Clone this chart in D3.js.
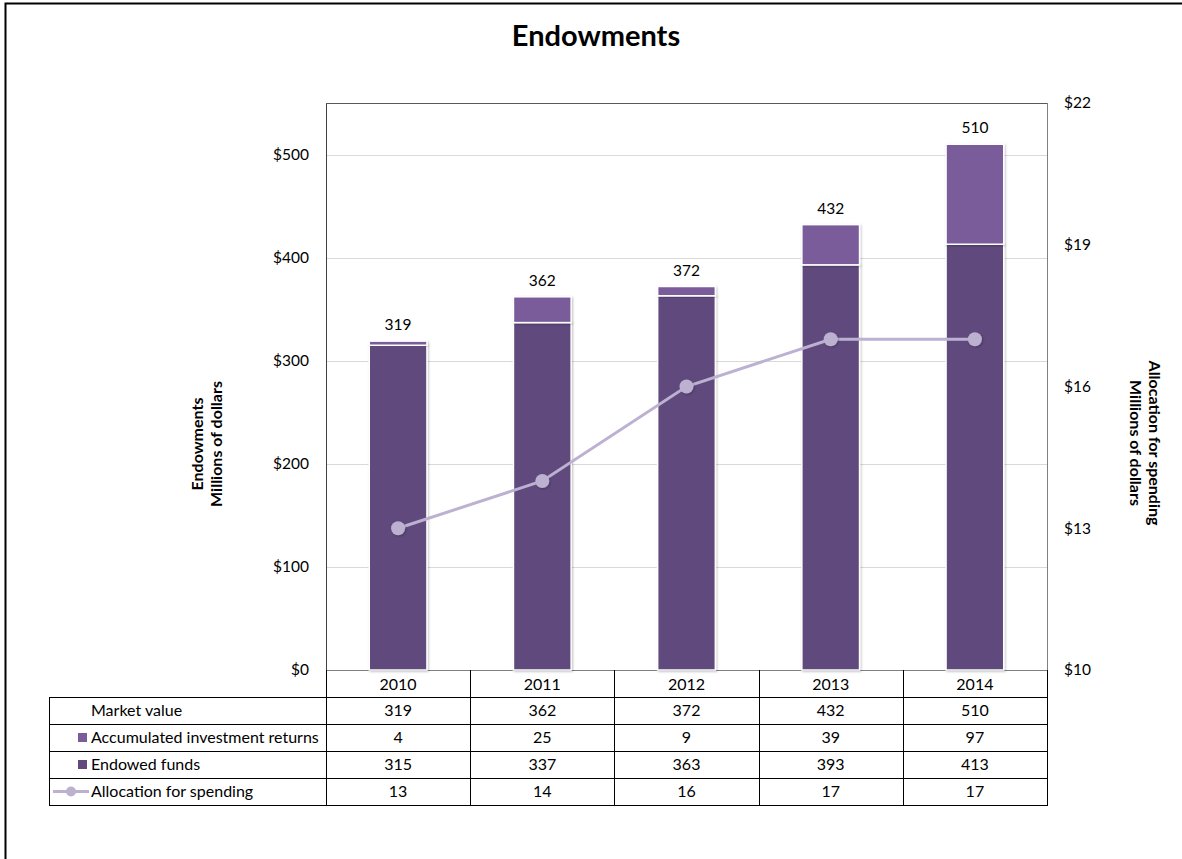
<!DOCTYPE html>
<html><head><meta charset="utf-8">
<script src="https://cdn.jsdelivr.net/npm/d3@7"></script>
<style>
html,body{margin:0;padding:0;background:#fff;}
svg{display:block;font-family:Lato, "Open Sans", sans-serif;}
</style></head>
<body>
<svg id="c" width="1182" height="859"></svg>
<script>
const years = ["2010","2011","2012","2013","2014"];
const marketValue = [319,362,372,432,510];
const accumulated = [4,25,9,39,97];
const endowed = [315,337,363,393,413];
const allocation = [13,14,16,17,17];
const leftTicks = [0,100,200,300,400,500];
const rightTicks = [10,13,16,19,22];
const seriesNames = ["Market value","Accumulated investment returns","Endowed funds","Allocation for spending"];

const cDark = "#604a7b", cLight = "#7a5c9a", cLine = "#bdb1d2";
const svg = d3.select("#c");
const defs = svg.append("defs");
const f = defs.append("filter").attr("id","sh").attr("x","-20%").attr("y","-20%").attr("width","140%").attr("height","140%");
f.append("feDropShadow").attr("dx",1).attr("dy",1).attr("stdDeviation",1.2).attr("flood-color","#000").attr("flood-opacity",0.25);

// outer border
svg.append("rect").attr("x",5.5).attr("y",3.5).attr("width",1190).attr("height",870)
  .attr("fill","none").attr("stroke","#000").attr("stroke-width",2);

const L = 326, R = 1047, T = 103, B = 670;
const x = d3.scaleBand().domain(years).range([L,R]).paddingInner(0).paddingOuter(0);
const y = d3.scaleLinear().domain([0,550]).range([B,T]);
const y2 = d3.scaleLinear().domain([10,22]).range([B,T]);

// title
svg.append("text").attr("x",596).attr("y",46).attr("text-anchor","middle")
  .attr("font-size",29).attr("font-weight","bold").attr("fill","#000").text("Endowments");

// gridlines
svg.append("g").selectAll("line").data(leftTicks.filter(d=>d>0)).join("line")
  .attr("x1",L).attr("x2",R).attr("y1",d=>Math.round(y(d))+0.5).attr("y2",d=>Math.round(y(d))+0.5)
  .attr("stroke","#d9d9d9").attr("stroke-width",1);

// plot frame
svg.append("rect").attr("x",L+0.5).attr("y",T+0.5).attr("width",R-L).attr("height",B-T)
  .attr("fill","none").attr("stroke","#7f7f7f").attr("stroke-width",1);
svg.append("line").attr("x1",L+0.5).attr("x2",L+0.5).attr("y1",T).attr("y2",B).attr("stroke","#404040");
svg.append("line").attr("x1",L).attr("x2",R).attr("y1",T+0.5).attr("y2",T+0.5).attr("stroke","#595959");

// left axis
const gl = svg.append("g").attr("transform",`translate(${L-14},0)`)
  .call(d3.axisLeft(y).tickValues(leftTicks).tickSize(0).tickFormat(d=>"$"+d));
gl.select(".domain").remove();
gl.selectAll("text").attr("font-size",15.5).attr("fill","#000").attr("font-family","Lato, sans-serif");

// right axis
const gr = svg.append("g").attr("transform",`translate(${R+14},0)`)
  .call(d3.axisRight(y2).tickValues(rightTicks).tickSize(0).tickFormat(d=>"$"+d));
gr.select(".domain").remove();
gr.selectAll("text").attr("font-size",15.5).attr("fill","#000").attr("font-family","Lato, sans-serif");

// axis titles
const lt = svg.append("text").attr("transform","translate(208,444) rotate(-90)")
  .attr("text-anchor","middle").attr("font-size",16).attr("font-weight","bold");
lt.append("tspan").attr("x",0).attr("dy","-0.3em").text("Endowments");
lt.append("tspan").attr("x",0).attr("dy","1.2em").text("Millions of dollars");
const rt = svg.append("text").attr("transform","translate(1144,443) rotate(90)")
  .attr("text-anchor","middle").attr("font-size",16).attr("font-weight","bold");
rt.append("tspan").attr("x",0).attr("dy","-0.3em").text("Allocation for spending");
rt.append("tspan").attr("x",0).attr("dy","1.2em").text("Millions of dollars");

// bars
const bw = x.bandwidth()*0.4;
const bars = svg.append("g");
years.forEach((yr,i)=>{
  const cx = x(yr)+x.bandwidth()/2;
  bars.append("rect").attr("x",cx-bw/2).attr("width",bw)
    .attr("y",y(endowed[i])).attr("height",y(0)-y(endowed[i]))
    .attr("fill",cDark).attr("stroke","#fff").attr("stroke-width",1.5).attr("filter","url(#sh)");
  bars.append("rect").attr("x",cx-bw/2).attr("width",bw)
    .attr("y",y(endowed[i]+accumulated[i])).attr("height",y(endowed[i])-y(endowed[i]+accumulated[i]))
    .attr("fill",cLight).attr("stroke","#fff").attr("stroke-width",1.5).attr("filter","url(#sh)");
  svg.append("text").attr("x",cx).attr("y",y(marketValue[i])-11).attr("text-anchor","middle")
    .attr("font-size",15.5).attr("fill","#000").text(marketValue[i]);
});

// line
const cxs = years.map(yr=>x(yr)+x.bandwidth()/2);
svg.append("path").datum(allocation)
  .attr("d",d3.line().x((d,i)=>cxs[i]).y(d=>y2(d)))
  .attr("fill","none").attr("stroke",cLine).attr("stroke-width",3);
svg.append("g").selectAll("circle").data(allocation).join("circle")
  .attr("cx",(d,i)=>cxs[i]).attr("cy",d=>y2(d)).attr("r",7)
  .attr("fill",cLine).attr("filter","url(#sh)");

// data table
const rowTop = [697,724,751,778], rowH = 27;
const tblL = 49;
const tg = svg.append("g").attr("stroke","#000").attr("stroke-width",1);
tg.append("line").attr("x1",tblL).attr("x2",R).attr("y1",697.5).attr("y2",697.5);
[724,751,778,805].forEach(v=>tg.append("line").attr("x1",tblL).attr("x2",R).attr("y1",v+0.5).attr("y2",v+0.5));
tg.append("line").attr("x1",tblL+0.5).attr("x2",tblL+0.5).attr("y1",697).attr("y2",806);
years.forEach(yr=>{
  const xx = Math.round(x(yr))+0.5;
  tg.append("line").attr("x1",xx).attr("x2",xx).attr("y1",B).attr("y2",806);
});
tg.append("line").attr("x1",R+0.5).attr("x2",R+0.5).attr("y1",B).attr("y2",806);

svg.append("g").selectAll("text").data(years).join("text")
  .attr("x",d=>x(d)+x.bandwidth()/2).attr("y",B+14).attr("dy","0.35em")
  .attr("text-anchor","middle").attr("font-size",16).text(d=>d);

const rowsData = [marketValue, accumulated, endowed, allocation];
rowsData.forEach((arr,r)=>{
  const cy = rowTop[r]+rowH/2;
  svg.append("text").attr("x",91).attr("y",cy).attr("dy","0.35em")
    .attr("font-size",16).attr("fill","#000").text(seriesNames[r]);
  arr.forEach((v,i)=>{
    svg.append("text").attr("x",cxs[i]).attr("y",cy).attr("dy","0.35em")
      .attr("text-anchor","middle").attr("font-size",16).text(v);
  });
});
svg.append("rect").attr("x",78).attr("y",rowTop[1]+rowH/2-4.5).attr("width",9).attr("height",9).attr("fill",cLight);
svg.append("rect").attr("x",78).attr("y",rowTop[2]+rowH/2-4.5).attr("width",9).attr("height",9).attr("fill",cDark);
svg.append("line").attr("x1",53).attr("x2",89).attr("y1",rowTop[3]+rowH/2).attr("y2",rowTop[3]+rowH/2)
  .attr("stroke",cLine).attr("stroke-width",3);
svg.append("circle").attr("cx",71).attr("cy",rowTop[3]+rowH/2).attr("r",5).attr("fill",cLine);
</script>
</body></html>
